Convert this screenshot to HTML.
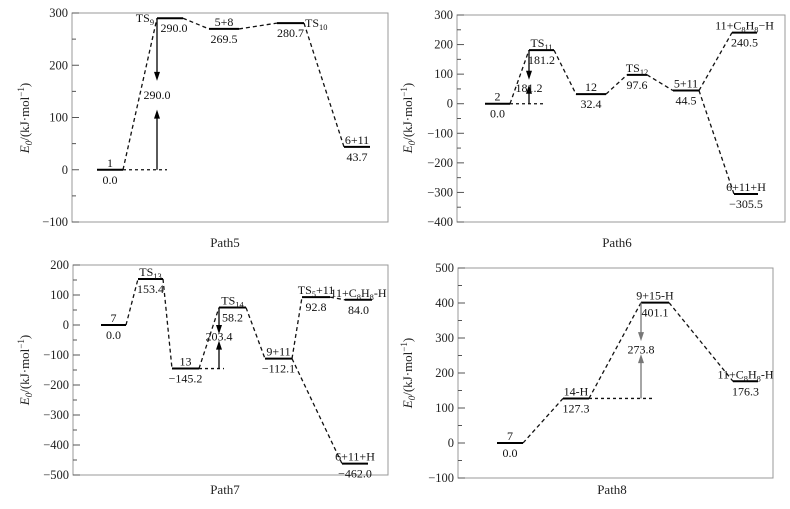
<!DOCTYPE html>
<html><head><meta charset="utf-8"><style>
html,body{margin:0;padding:0;background:#fff;}
svg, svg text{font-family:"Liberation Serif","Times New Roman",Times,serif;}
svg{display:block;}
</style></head>
<body>
<svg id="fig" width="790" height="509" viewBox="0 0 790 509" xmlns="http://www.w3.org/2000/svg" font-family="Liberation Serif, Times New Roman, serif"></svg>
<script>
// ---- data ----
const p5Names = ["1","TS_9","5+8","TS_10","6+11"];
const p5Values = [0.0, 290.0, 269.5, 280.7, 43.7];
const p5Ticks = [300,200,100,0,-100];
const p6Names = ["2","TS_11","12","TS_12","5+11","11+C_8H_8−H","6+11+H"];
const p6Values = [0.0, 181.2, 32.4, 97.6, 44.5, 240.5, -305.5];
const p6Ticks = [300,200,100,0,-100,-200,-300,-400];
const p7Names = ["7","TS_13","13","TS_14","9+11","TS_5+11","11+C_8H_8-H","6+11+H"];
const p7Values = [0.0, 153.4, -145.2, 58.2, -112.1, 92.8, 84.0, -462.0];
const p7Ticks = [200,100,0,-100,-200,-300,-400,-500];
const p8Names = ["7","14-H","9+15-H","11+C_8H_8-H"];
const p8Values = [0.0, 127.3, 401.1, 176.3];
const p8Ticks = [500,400,300,200,100,0,-100];
const barrier5 = 290.0, barrier6 = 181.2, barrier7 = 203.4, barrier8 = 273.8;

// ---- layout ----
const NS="http://www.w3.org/2000/svg";
const svg=document.getElementById('fig');
const FS=12;
function mk(tag,attrs,parent){const e=document.createElementNS(NS,tag);for(const k in attrs)e.setAttribute(k,attrs[k]);(parent||svg).appendChild(e);return e;}
function richText(g,str,x,y,anchor,size){
  const t=mk('text',{x:x,y:y,'text-anchor':anchor,'font-size':size,fill:'#111'},g);
  const parts=str.split(/(_\d+)/).filter(p=>p);
  let shift=0;
  parts.forEach(p=>{
    if(p[0]==='_'){const s=mk('tspan',{'font-size':size*0.7,dy:3},t);s.textContent=p.slice(1);shift=3;}
    else{const s=mk('tspan',{dy:-shift},t);s.textContent=p;shift=0;}
  });
  return t;
}
const panels=[
 {id:'path5',title:'Path5',box:[72,13,388,222],dom:[-100,300],minor:50,names:p5Names,vals:p5Values,ticks:p5Ticks,
  xs:[[97,123],[157,183],[209,239],[277,304],[344,370]],
  nm:['a','l','a','r','a'],edges:[[0,1],[1,2],[2,3],[3,4]],
  arrow:{x:157,from:0,dot:[123,167],top:1,downTip:170,upTip:115,lab:135,val:barrier5,color:'#000'},
  ytitle:[25,118],ptitle:[225,243]},
 {id:'path6',title:'Path6',box:[457,15,785,222],dom:[-400,300],minor:50,names:p6Names,vals:p6Values,ticks:p6Ticks,
  xs:[[485,510],[529,554],[576,606],[627,647],[673,699],[732,757],[734,758]],
  nm:['a','a','a','a','a','a','a'],edges:[[0,1],[1,2],[2,3],[3,4],[4,5],[4,6]],
  arrow:{x:529,from:0,dot:[510,543],top:1,downTip:81,upTip:64,lab:40,val:barrier6,color:'#000'},
  ytitle:[408,118],ptitle:[617,243]},
 {id:'path7',title:'Path7',box:[73,265,388,475],dom:[-500,200],minor:50,names:p7Names,vals:p7Values,ticks:p7Ticks,
  xs:[[101,126],[138,163],[172,199],[219,246],[265,292],[302,330],[345,372],[342,368]],
  nm:['a','a','a','a','a','a','a','a'],edges:[[0,1],[1,2],[2,3],[3,4],[4,5],[5,6],[4,7]],
  arrow:{x:219,from:2,dot:[199,224],top:3,downTip:-30,upTip:-52,lab:-52,val:barrier7,color:'#000'},
  ytitle:[25,370],ptitle:[225,490]},
 {id:'path8',title:'Path8',box:[458,268,773,478],dom:[-100,500],minor:50,names:p8Names,vals:p8Values,ticks:p8Ticks,
  xs:[[497,523],[563,589],[641,669],[733,758]],
  nm:['a','a','a','a'],edges:[[0,1],[1,2],[2,3]],
  arrow:{x:641,from:1,dot:[589,653],top:2,downTip:291,upTip:254,lab:256,val:barrier8,color:'#777'},
  ytitle:[408,373],ptitle:[612,490]}
];
panels.forEach(P=>{
  const g=mk('g',{});
  
  
  const [x0,y0,x1,y1]=P.box;
  const y=v=>y1-(v-P.dom[0])/(P.dom[1]-P.dom[0])*(y1-y0);
  const box=mk('rect',{x:x0,y:y0,width:x1-x0,height:y1-y0,fill:'none',stroke:'#999','stroke-width':1},g);
  
  
  for(let v=P.dom[0];v<=P.dom[1];v+=P.minor){
    const major=P.ticks.includes(v);
    mk('line',{x1:x0,x2:x0+(major?7:4),y1:y(v),y2:y(v),stroke:'#555','stroke-width':1},g);
  }
  P.ticks.forEach(v=>{
    const t=mk('text',{x:x0-4,y:y(v)+4,'text-anchor':'end','font-size':12.5,fill:'#222'},g);
    t.textContent=(v<0?'−'+(-v):String(v));
    
    
  });
  const yt=mk('text',{x:0,y:0,'font-size':13,fill:'#222','text-anchor':'middle',transform:`translate(${P.ytitle[0]+4},${P.ytitle[1]}) rotate(-90)`},g);
  
  
  let s=mk('tspan',{'font-style':'italic'},yt);s.textContent='E';
  s=mk('tspan',{'font-style':'italic','font-size':9,dy:3},yt);s.textContent='0';
  s=mk('tspan',{dy:-3},yt);s.textContent='/(kJ·mol';
  s=mk('tspan',{'font-size':9,dy:-5},yt);s.textContent='−1';
  s=mk('tspan',{dy:5},yt);s.textContent=')';
  const pt=mk('text',{x:P.ptitle[0],y:P.ptitle[1]+4,'text-anchor':'middle','font-size':13,fill:'#222'},g);
  pt.textContent=P.title;
  
  
  P.edges.forEach(([a,b])=>{
    const e=mk('line',{x1:P.xs[a][1],y1:y(P.vals[a]),x2:P.xs[b][0],y2:y(P.vals[b]),stroke:'#111','stroke-width':1.3,'stroke-dasharray':'4,3'},g);
    
    
  });
  P.vals.forEach((v,i)=>{
    const [a,b]=P.xs[i];const yy=y(v);
    const l=mk('line',{x1:a,x2:b,y1:yy,y2:yy,stroke:'#000','stroke-width':2},g);
    
    
    const cx=(a+b)/2;let nt;
    if(P.nm[i]==='l') nt=richText(g,P.names[i],a-3,yy+4,'end',FS);
    else if(P.nm[i]==='r') nt=richText(g,P.names[i],b+1,yy+4,'start',FS);
    else nt=richText(g,P.names[i],cx,yy-3,'middle',FS);
    
    
    const vt=mk('text',{x:cx+(P.nm[i]==='l'?4:0),y:yy+14,'text-anchor':'middle','font-size':FS,fill:'#111'},g);
    vt.textContent=(v<0?'−'+(-v).toFixed(1):v.toFixed(1));
    
    
  });
  const A=P.arrow;const yb=y(P.vals[A.from]);const ytop=y(P.vals[A.top]);
  const d=mk('line',{x1:A.dot[0],x2:A.dot[1],y1:yb,y2:yb,stroke:'#111','stroke-width':1.3,'stroke-dasharray':'3,3'},g);
  
  
  const yd=y(A.downTip),yu=y(A.upTip);
  mk('line',{x1:A.x,x2:A.x,y1:ytop,y2:yd-8,stroke:A.color,'stroke-width':1.3},g);
  mk('polygon',{points:`${A.x-3},${yd-9} ${A.x+3},${yd-9} ${A.x},${yd}`,fill:A.color},g);
  mk('line',{x1:A.x,x2:A.x,y1:yb,y2:yu+8,stroke:A.color,'stroke-width':1.3},g);
  mk('polygon',{points:`${A.x-3},${yu+9} ${A.x+3},${yu+9} ${A.x},${yu}`,fill:A.color},g);
  const at=mk('text',{x:A.x,y:y(A.lab),'text-anchor':'middle','font-size':FS,fill:'#111'},g);
  at.textContent=A.val.toFixed(1);
  
  
});
</script>
</body></html>
